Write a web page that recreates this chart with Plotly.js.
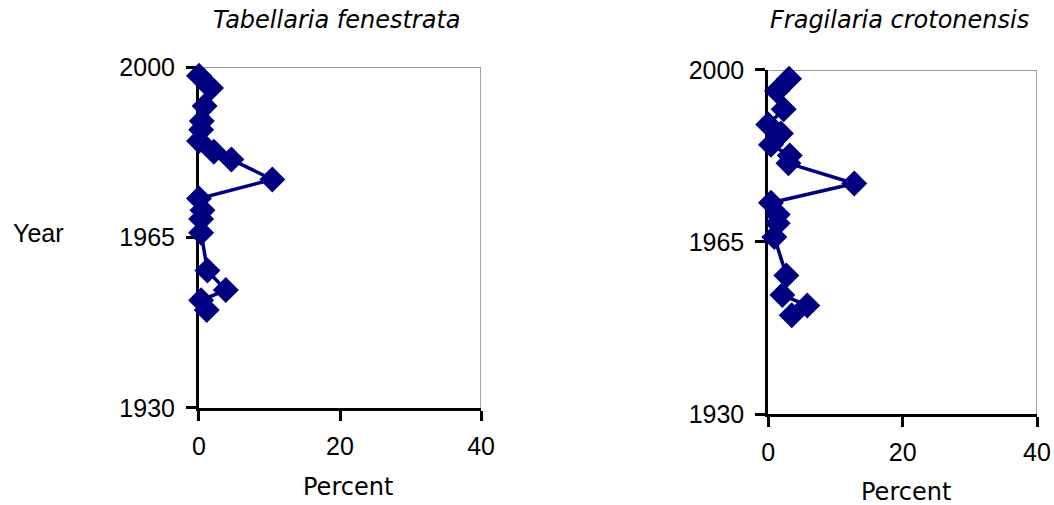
<!DOCTYPE html>
<html>
<head>
<meta charset="utf-8">
<script src="https://cdn.plot.ly/plotly-3.0.1.min.js"></script>
<style>html,body{margin:0;padding:0;background:#fff;}#chart{width:1054px;height:505px;}</style>
</head>
<body>
<div id="chart"></div>
<script>
const years = [1998.2, 1995.7, 1992.0, 1988.9, 1987.1, 1984.8, 1982.6, 1981.0, 1976.9, 1973.0, 1970.6, 1968.8, 1966.0, 1958.2, 1954.2, 1952.1, 1950.1];
const tabellaria = [0, 1.7, 0.8, 0.4, 0.3, 0, 2.1, 4.6, 10.4, 0, 0.5, 0.3, 0.3, 1.2, 3.8, 0.3, 1.1];
const fragilaria = [3.1, 1.3, 2.3, 0, 1.9, 0.4, 3.2, 3.0, 12.8, 0.4, 1.4, 1.4, 0.9, 2.7, 2.1, 5.8, 3.5];
const speciesNames = ['Tabellaria fenestrata', 'Fragilaria crotonensis'];
const xTicks = [0, 20, 40];
const yTicks = [1930, 1965, 2000];
const xRange = [0, 40];
const yRange = [1930, 2000];

const navy = '#000080';
const fontFam = '"Liberation Sans", Arial, sans-serif';
const wideFam = '"DejaVu Sans", Verdana, sans-serif';

function trace(x, xa, ya) {
  return {
    x: x, y: years, xaxis: xa, yaxis: ya, type: 'scatter', mode: 'lines+markers',
    cliponaxis: false,
    line: {color: navy, width: 3.5},
    marker: {symbol: 'diamond', size: 20, color: navy, line: {width: 0}},
    showlegend: false, hoverinfo: 'skip'
  };
}

function xAxis(domain, anchor) {
  return {
    domain: domain, anchor: anchor, range: xRange, tickvals: xTicks, ticktext: xTicks.map(String),
    showgrid: false, zeroline: false, showline: true, linecolor: '#000', linewidth: 3,
    ticks: 'outside', ticklen: 10, tickwidth: 3, tickcolor: '#000',
    ticklabelstandoff: 4, layer: 'below traces',
    tickfont: {family: fontFam, size: 25, color: '#000'}, fixedrange: true
  };
}
function yAxis(domain, anchor) {
  return {
    domain: domain, anchor: anchor, range: yRange, tickvals: yTicks, ticktext: yTicks.map(String),
    showgrid: false, zeroline: false, showline: true, linecolor: '#000', linewidth: 3,
    ticks: 'outside', ticklen: 10, tickwidth: 3, tickcolor: '#000',
    ticklabelstandoff: 6, layer: 'below traces',
    tickfont: {family: fontFam, size: 25, color: '#000'}, fixedrange: true
  };
}

function border(xr, yr) {
  return [
    {type: 'line', xref: xr, yref: yr, x0: xRange[0], x1: xRange[1], y0: yRange[1], y1: yRange[1], line: {color: '#808080', width: 1.5}, layer: 'below'},
    {type: 'line', xref: xr, yref: yr, x0: xRange[1], x1: xRange[1], y0: yRange[0], y1: yRange[1], line: {color: '#808080', width: 1.5}, layer: 'below'}
  ];
}

const layout = {
  width: 1054, height: 505,
  margin: {l: 0, r: 0, t: 0, b: 0},
  paper_bgcolor: '#fff', plot_bgcolor: 'rgba(0,0,0,0)',
  font: {family: fontFam, color: '#000'},
  xaxis: xAxis([0.1888, 0.4564], 'y'),
  yaxis: yAxis([0.1921, 0.8673], 'x'),
  xaxis2: xAxis([0.7289, 0.9839], 'y2'),
  yaxis2: yAxis([0.1802, 0.8614], 'x2'),
  shapes: border('x', 'y').concat(border('x2', 'y2')),
  annotations: [
    {text: speciesNames[0], xref: 'paper', yref: 'paper', x: 337/1054, y: 1 - 20/505, showarrow: false, xanchor: 'center', yanchor: 'middle', font: {family: wideFam, size: 24, style: 'italic'}},
    {text: speciesNames[1], xref: 'paper', yref: 'paper', x: 899/1054, y: 1 - 20/505, showarrow: false, xanchor: 'center', yanchor: 'middle', font: {family: wideFam, size: 24, style: 'italic'}},
    {text: 'Year', xref: 'paper', yref: 'paper', x: 38/1054, y: 1 - 233/505, showarrow: false, xanchor: 'center', yanchor: 'middle', font: {family: fontFam, size: 25}},
    {text: 'Percent', xref: 'paper', yref: 'paper', x: 348/1054, y: 1 - 487/505, showarrow: false, xanchor: 'center', yanchor: 'middle', font: {family: wideFam, size: 24}},
    {text: 'Percent', xref: 'paper', yref: 'paper', x: 906/1054, y: 1 - 492/505, showarrow: false, xanchor: 'center', yanchor: 'middle', font: {family: wideFam, size: 24}}
  ]
};

Plotly.newPlot('chart', [trace(tabellaria, 'x', 'y'), trace(fragilaria, 'x2', 'y2')], layout, {staticPlot: true, displayModeBar: false});
</script>
</body>
</html>
